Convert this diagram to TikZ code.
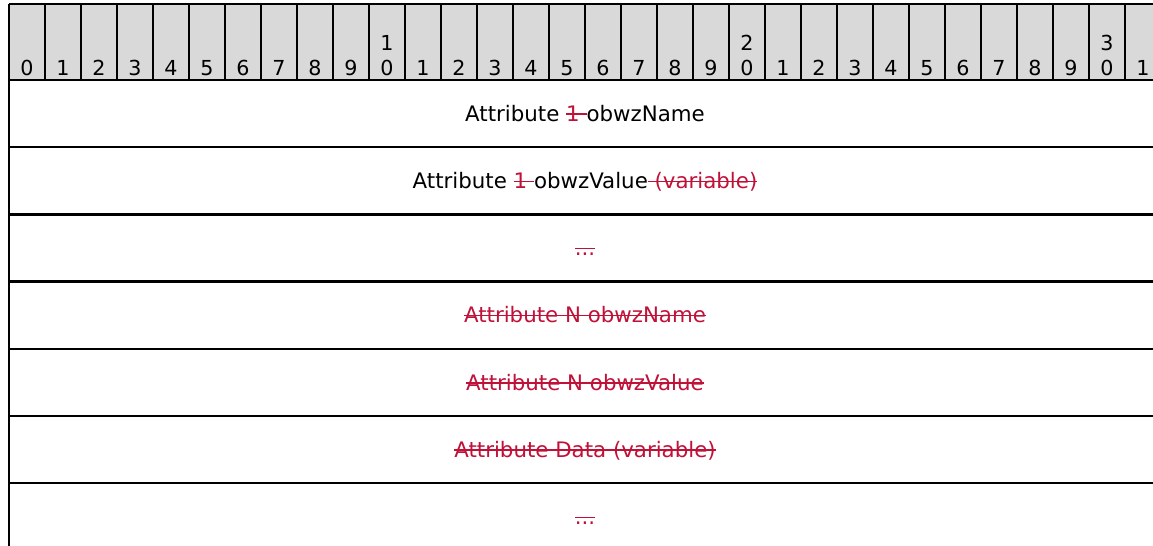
\documentclass[tikz,border=0pt]{standalone}
\usepackage{fontspec}
\setmainfont{DejaVu Sans}
\definecolor{changed}{RGB}{192,18,57}
\newsavebox{\strikebox}
\newcommand{\struck}[1]{\textcolor{changed}{\sbox{\strikebox}{#1}%
    \rlap{\rule[0.29em]{\wd\strikebox}{1.1pt}}\usebox{\strikebox}}}

\begin{document}
\begin{tikzpicture}[x=0.75pt, y=-0.75pt,
        rule/.style={line width=1.7pt},
        bitno/.style={font=\fontsize{15.5}{18}\selectfont, inner sep=0pt, anchor=base},
        field/.style={font=\fontsize{16}{19}\selectfont, inner sep=0pt, anchor=base}
    ]
    \clip (0,0) rectangle (1153,546);
    % header with the bit numbers
    \fill[gray!30] (9,4) rectangle (1161,80);
    \foreach \i in {0,...,31} {
        \pgfmathtruncatemacro{\lo}{mod(\i,10)}
        \pgfmathtruncatemacro{\hi}{\i/10}
        \node[bitno] (bit\i) at (27+36*\i,75) {\lo};
        \ifnum\lo=0 \ifnum\i>0
            \node[bitno] (bit\i t) at (27+36*\i,50) {\hi};
        \fi\fi
        \draw[rule] (9+36*\i,4) -- (9+36*\i,80);
    }
    \draw[rule] (9,4) -- (1161,4);
    % rows
    \foreach \r in {0,...,6}
        \draw[rule] (9,80+67.2*\r) -- (1161,80+67.2*\r);
    \draw[rule] (9,80) -- (9,546);
    % fields
    \node[field] (name1) at (585,121) {Attribute \struck{1 }obwzName};
    \node[field] (value1) at (585,188.5) {Attribute \struck{1 }obwzValue\struck{ (variable)}};
    \node[field] (more1) at (585,255.5) {\struck{...}};
    \node[field] (nameN) at (585,322.5) {\struck{Attribute N obwzName}};
    \node[field] (valueN) at (585,390) {\struck{Attribute N obwzValue}};
    \node[field] (data) at (585,457) {\struck{Attribute Data (variable)}};
    \node[field] (more2) at (585,524.5) {\struck{...}};
\end{tikzpicture}
\end{document}
